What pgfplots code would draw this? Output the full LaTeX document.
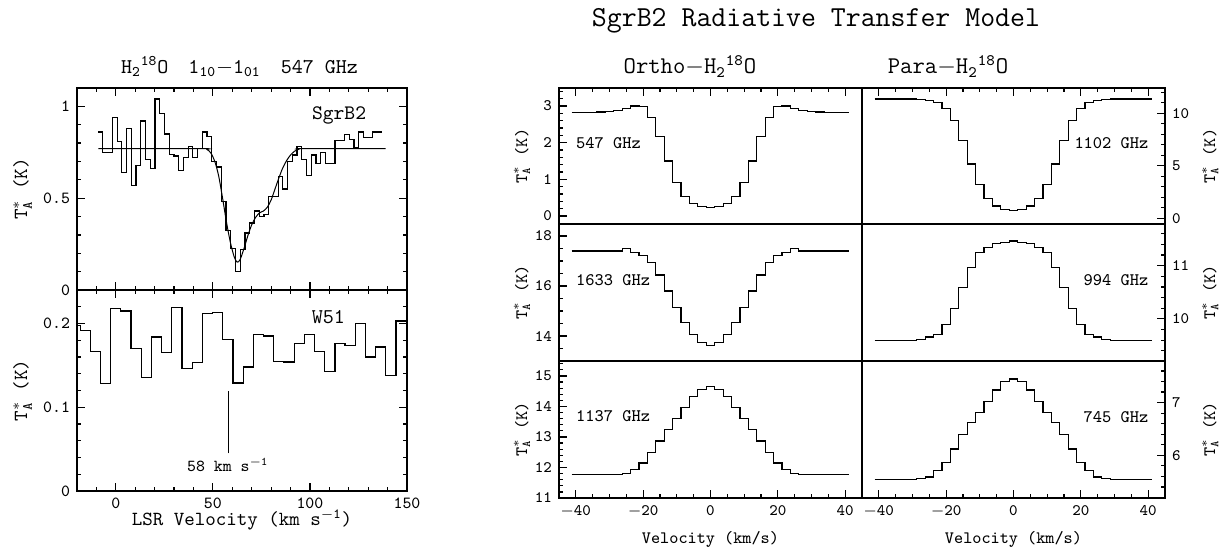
\documentclass[border=0pt]{standalone}
\usepackage{pgfplots}
\usepackage{pgfplotstable}
\pgfplotsset{compat=1.18}
\renewcommand{\familydefault}{\ttdefault}

\newcommand{\TA}{T$_{\mathtt{A}}^{*}$}
\newcommand{\HO}{H\textsubscript{2}\textsuperscript{18}O}

% model spectra, bin centres (ends padded half a channel)
\pgfplotstableread{
v      o547   p1102  o1633  p994   o1137  p745
-41.25 2.83   11.37  17.40  9.59   11.77  5.545
-40    2.83   11.37  17.40  9.59   11.77  5.545
-37.5  2.83   11.37  17.40  9.59   11.77  5.545
-35    2.83   11.37  17.40  9.59   11.77  5.545
-32.5  2.835  11.37  17.40  9.59   11.77  5.545
-30    2.845  11.36  17.40  9.59   11.77  5.545
-27.5  2.87   11.33  17.40  9.61   11.78  5.56
-25    2.92   11.20  17.51  9.66   11.80  5.59
-22.5  3.00   11.00  17.35  9.70   11.94  5.71
-20    2.98   10.44  17.21  9.89   12.15  5.86
-17.5  2.69   9.30   16.95  10.19  12.49  6.12
-15    2.16   7.40   16.44  10.59  12.87  6.40
-12.5  1.50   5.17   15.80  10.96  13.25  6.62
-10    0.91   3.24   15.13  11.24  13.61  6.82
-7.5   0.53   1.90   14.55  11.34  13.97  7.02
-5     0.33   1.17   14.07  11.42  14.32  7.24
-2.5   0.255  0.86   13.73  11.44  14.56  7.40
0      0.23   0.73   13.61  11.46  14.65  7.45
2.5    0.255  0.86   13.73  11.44  14.56  7.40
5      0.33   1.17   14.07  11.42  14.32  7.24
7.5    0.53   1.90   14.55  11.34  13.97  7.02
10     0.91   3.24   15.13  11.24  13.61  6.82
12.5   1.50   5.17   15.80  10.96  13.25  6.62
15     2.16   7.40   16.44  10.59  12.87  6.40
17.5   2.69   9.30   16.95  10.19  12.49  6.12
20     2.98   10.44  17.21  9.89   12.15  5.86
22.5   3.00   11.00  17.35  9.70   11.94  5.71
25     2.92   11.20  17.51  9.66   11.80  5.59
27.5   2.87   11.33  17.40  9.61   11.78  5.56
30     2.845  11.36  17.40  9.59   11.77  5.545
32.5   2.835  11.37  17.40  9.59   11.77  5.545
35     2.83   11.37  17.40  9.59   11.77  5.545
37.5   2.83   11.37  17.40  9.59   11.77  5.545
40     2.83   11.37  17.40  9.59   11.77  5.545
41.25  2.83   11.37  17.40  9.59   11.77  5.545
}\model

\tikzset{ghz/.style={font=\fontsize{8.8}{10}\selectfont, inner sep=0pt}}

\pgfplotsset{
  base/.style={
    scale only axis,
    axis line style={line width=0.7pt},
    tick style={black, line width=0.6pt},
    tick align=inside,
    major tick length=4pt,
    minor tick length=2.2pt,
    /pgf/number format/assume math mode=true,
    tick label style={font=\fontsize{8.5}{10}\selectfont},
    every axis plot/.append style={black, line width=0.6pt},
  },
  rpanel/.style={
    base,
    width=151.5pt,
    xmin=-45, xmax=45,
    xtick={-40,-20,0,20,40},
    xticklabels={$-$40,$-$20,0,20,40},
    minor xtick={-45,-40,...,45},
    tick label style={font=\fontsize{8}{10}\selectfont},
    label style={font=\fontsize{8.7}{10}\selectfont},
  },
  rleft/.style={ytick pos=left, yticklabel pos=left,
    ylabel={\TA\ (K)},
    ylabel style={at={(axis description cs:-0.122,0.5)}, anchor=center}},
  rright/.style={ytick pos=right, yticklabel pos=right,
    ylabel={\TA\ (K)},
    ylabel style={at={(axis description cs:1.149,0.5)}, anchor=center}},
}

\begin{document}
\begin{tikzpicture}[font=\ttfamily]
\path[use as bounding box] (0,0) rectangle (614pt,276.5pt);

% ---------------- left: observed spectra ----------------
\node[anchor=base, font=\fontsize{10.5}{12}\selectfont] at (119.75pt,239.9pt)
  {\HO\hspace{10pt}1\textsubscript{10}$-$1\textsubscript{01}\hspace{10pt}547 GHz};

\begin{axis}[base, at={(38.5pt,131.5pt)}, anchor=south west,
  width=165pt, height=101pt,
  xmin=-20, xmax=150, ymin=0, ymax=1.1,
  xtick={0,50,100,150}, xticklabels={},
  minor xtick={-20,-10,...,150},
  ytick={0,0.5,1}, minor ytick={0,0.1,...,1.1},
  xtick pos=both, ytick pos=both, yticklabel pos=left,
  ylabel={\TA\ (K)},
  label style={font=\fontsize{10}{12}\selectfont},
  ylabel style={at={(axis description cs:-0.165,0.5)}, anchor=center},
]
\addplot[const plot] table {
-9.10 0.86
-6.66 0.75
-4.22 0.75
-1.78 0.94
0.66 0.81
3.10 0.64
5.54 0.88
7.98 0.57
10.42 0.68
12.86 0.92
15.30 0.71
17.74 0.66
20.18 1.04
22.62 0.96
25.06 0.85
27.50 0.74
29.94 0.73
32.38 0.65
34.82 0.72
37.26 0.78
39.70 0.72
42.14 0.77
44.58 0.86
47.02 0.835
49.46 0.70
51.90 0.67
54.34 0.48
56.78 0.325
59.22 0.225
61.66 0.10
64.10 0.22
66.54 0.31
68.98 0.365
71.42 0.43
73.86 0.40
76.30 0.41
78.74 0.51
81.18 0.51
83.62 0.62
86.06 0.55
88.50 0.70
90.94 0.735
93.38 0.78
95.82 0.71
98.26 0.625
100.70 0.735
103.14 0.69
105.58 0.75
108.02 0.69
110.46 0.69
112.90 0.815
115.34 0.815
117.78 0.845
120.22 0.82
122.66 0.775
125.10 0.86
127.54 0.83
129.98 0.83
132.42 0.86
134.86 0.86
137.30 0.86
};
% fitted profile
\addplot[smooth, line width=0.5pt] coordinates {
(-9,0.77) (44,0.77) (47,0.765) (49,0.745) (51,0.70) (53,0.62) (55,0.50)
(57,0.37) (59,0.26) (61,0.18) (62.5,0.152) (64,0.165) (66,0.225) (68,0.295)
(70,0.355) (72,0.395) (74,0.42) (76,0.43) (78,0.45) (80,0.49) (82,0.55)
(84,0.61) (86,0.665) (88,0.705) (90,0.735) (92,0.755) (94,0.765) (96,0.77)
(139,0.77)
};
\node[font=\fontsize{10.3}{12}\selectfont] at (axis cs:115,0.948) {SgrB2};
\end{axis}

\begin{axis}[base, at={(38.5pt,31pt)}, anchor=south west,
  width=165pt, height=100.5pt,
  xmin=-20, xmax=150, ymin=0, ymax=0.24,
  xtick={0,50,100,150}, minor xtick={-20,-10,...,150},
  ytick={0,0.1,0.2}, minor ytick={0,0.02,...,0.24},
  xtick pos=both, ytick pos=both, yticklabel pos=left, xticklabel pos=left,
  xlabel={LSR Velocity (km s\textsuperscript{$-$1})},
  ylabel={\TA\ (K)},
  label style={font=\fontsize{10}{12}\selectfont},
  xlabel style={at={(axis description cs:0.5,-0.144)}, anchor=center},
  ylabel style={at={(axis description cs:-0.165,0.5)}, anchor=center},
]
\addplot[const plot] table {
-20 0.198
-18.39 0.192
-13.14 0.167
-7.89 0.128
-2.64 0.218
2.61 0.215
7.86 0.170
13.11 0.136
18.36 0.184
23.61 0.165
28.86 0.219
34.11 0.146
39.36 0.153
44.61 0.2115
49.86 0.2135
55.11 0.181
60.36 0.129
65.61 0.148
70.86 0.1865
76.11 0.185
81.36 0.155
86.61 0.154
91.86 0.176
97.11 0.1865
102.36 0.167
107.61 0.143
112.86 0.176
118.11 0.174
123.36 0.200
128.61 0.160
133.86 0.172
139.11 0.138
144.36 0.203
150 0.203
};
\draw[line width=0.5pt] (axis cs:58,0.045) -- (axis cs:58,0.12);
\node[font=\fontsize{8.4}{10}\selectfont] at (axis cs:57.7,0.031) {58 km s\textsuperscript{$-$1}};
\node[font=\fontsize{10.5}{12}\selectfont] at (axis cs:109.5,0.2075) {W51};
\end{axis}

% ---------------- right: model grid ----------------
\node[anchor=base, font=\fontsize{14.5}{16}\selectfont] at (408pt,263.2pt) {SgrB2 Radiative Transfer Model};
\node[anchor=base, font=\fontsize{12}{14}\selectfont] at (345pt,239.5pt) {Ortho$-$\HO};
\node[anchor=base, font=\fontsize{12}{14}\selectfont] at (474pt,239.5pt) {Para$-$\HO};

% row 1
\begin{axis}[rpanel, rleft, at={(279.5pt,164.5pt)}, anchor=south west, height=68pt,
  ymin=-0.22, ymax=3.49, ytick={0,1,2,3}, minor ytick={-0.2,0,...,3.4},
  xtick pos=right, xticklabels={}]
\addplot[const plot mark mid] table[x=v, y=o547] {\model};
\node[ghz, anchor=west] at (axis cs:-40,2.0) {547 GHz};
\end{axis}
\begin{axis}[rpanel, rright, at={(431pt,164.5pt)}, anchor=south west, height=68pt,
  ymin=-0.54, ymax=12.41, ytick={0,5,10}, minor ytick={0,1,...,12},
  xtick pos=right, xticklabels={}]
\addplot[const plot mark mid] table[x=v, y=p1102] {\model};
\node[ghz, anchor=east] at (axis cs:40.2,7.2) {1102 GHz};
\end{axis}

% row 2
\begin{axis}[rpanel, rleft, at={(279.5pt,96pt)}, anchor=south west, height=68.5pt,
  ymin=13.0, ymax=18.48, ytick={14,16,18}, minor ytick={13,13.5,...,18},
  xtick=\empty, minor xtick=\empty]
\addplot[const plot mark mid] table[x=v, y=o1633] {\model};
\node[ghz, anchor=west] at (axis cs:-40,16.24) {1633 GHz};
\end{axis}
\begin{axis}[rpanel, rright, at={(431pt,96pt)}, anchor=south west, height=68.5pt,
  ymin=9.21, ymax=11.78, ytick={10,11}, minor ytick={9.4,9.6,...,11.6},
  xtick=\empty, minor xtick=\empty]
\addplot[const plot mark mid] table[x=v, y=p994] {\model};
\node[ghz, anchor=east] at (axis cs:40.2,10.73) {994 GHz};
\end{axis}

% row 3
\begin{axis}[rpanel, rleft, at={(279.5pt,27.5pt)}, anchor=south west, height=68.5pt,
  ymin=11.0, ymax=15.49, ytick={11,12,13,14,15}, minor ytick={11,11.2,...,15.4},
  xtick pos=left, xticklabel pos=left,
  xlabel={Velocity (km/s)},
  xlabel style={at={(axis description cs:0.5,-0.30)}, anchor=center}]
\addplot[const plot mark mid] table[x=v, y=o1137] {\model};
\node[ghz, anchor=west] at (axis cs:-40,13.68) {1137 GHz};
\end{axis}
\begin{axis}[rpanel, rright, at={(431pt,27.5pt)}, anchor=south west, height=68.5pt,
  ymin=5.19, ymax=7.79, ytick={6,7}, minor ytick={5.2,5.4,...,7.6},
  xtick pos=left, xticklabel pos=left,
  xlabel={Velocity (km/s)},
  xlabel style={at={(axis description cs:0.5,-0.30)}, anchor=center}]
\addplot[const plot mark mid] table[x=v, y=p745] {\model};
\node[ghz, anchor=east] at (axis cs:40.2,6.73) {745 GHz};
\end{axis}
\end{tikzpicture}
\end{document}
